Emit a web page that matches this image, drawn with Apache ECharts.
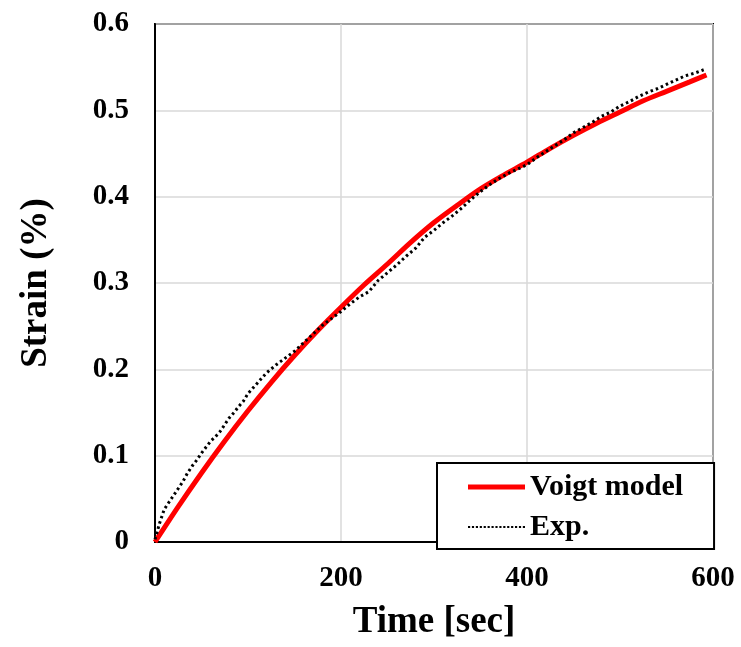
<!DOCTYPE html>
<html>
<head>
<meta charset="utf-8">
<script src="https://cdn.jsdelivr.net/npm/echarts@6/dist/echarts.min.js"></script>
<style>html,body{margin:0;padding:0;background:#fff}#c{width:741px;height:647px}</style>
</head>
<body>
<div id="c"></div>
<script>
// Voigt model fit (time s, strain %)
const voigtTime = [0, 25, 50, 75, 100, 125, 150, 175, 200, 225, 250, 275, 300, 325, 350, 375, 400, 425, 450, 475, 500, 525, 550, 575, 593];
const voigtStrain = [0, 0.041, 0.080, 0.117, 0.152, 0.185, 0.216, 0.245, 0.272, 0.298, 0.322, 0.347, 0.370, 0.390, 0.409, 0.425, 0.440, 0.456, 0.471, 0.485, 0.498, 0.511, 0.522, 0.533, 0.541];
// Experimental data
const expTime = [0,5,10,15,20,25,30,35,40,45,50,55,60,65,70,75,80,85,90,95,100,110,120,130,140,150,160,170,180,190,200,210,220,230,240,250,260,270,280,290,300,310,320,330,340,350,360,370,380,390,400,410,420,430,440,450,460,470,480,490,500,510,520,530,540,550,560,570,580,590];
const expStrain = [0.003,0.022,0.038,0.046,0.054,0.062,0.070,0.080,0.088,0.095,0.103,0.110,0.117,0.122,0.128,0.136,0.144,0.150,0.157,0.163,0.172,0.184,0.196,0.205,0.213,0.221,0.231,0.241,0.251,0.259,0.267,0.276,0.284,0.290,0.303,0.312,0.321,0.331,0.340,0.353,0.361,0.370,0.378,0.387,0.397,0.406,0.414,0.421,0.427,0.432,0.437,0.445,0.452,0.459,0.466,0.474,0.480,0.486,0.493,0.498,0.505,0.510,0.516,0.521,0.525,0.530,0.535,0.540,0.543,0.547];
const xTicks = [0, 200, 400, 600];
const yTicks = [0, 0.1, 0.2, 0.3, 0.4, 0.5, 0.6];

const FONT = '"Liberation Serif", "Times New Roman", serif';
let dots = '';
for (let x = 0; x < 57; x += 4) dots += 'M' + x + ',0 h2.2 v2.2 h-2.2 Z ';
const chart = echarts.init(document.getElementById('c'));
const zip = (a, b) => a.map((v, i) => [v, b[i]]);
chart.setOption({
  animation: false,
  backgroundColor: '#fff',
  grid: { left: 155, right: 28, top: 24, bottom: 105, show: true, borderColor: '#000', borderWidth: 2, backgroundColor: 'transparent' },
  xAxis: {
    type: 'value', min: xTicks[0], max: xTicks[xTicks.length - 1], interval: 200,
    name: 'Time [sec]', nameLocation: 'middle', nameGap: 62,
    nameTextStyle: { fontFamily: FONT, fontWeight: 'bold', fontSize: 37, color: '#000' },
    axisLine: { show: true, lineStyle: { color: '#000', width: 2 } },
    axisTick: { show: false },
    axisLabel: { fontFamily: FONT, fontWeight: 'bold', fontSize: 29, color: '#000', margin: 22 },
    splitLine: { show: true, lineStyle: { color: '#d9d9d9', width: 1.5 } }
  },
  yAxis: {
    type: 'value', min: yTicks[0], max: yTicks[yTicks.length - 1], interval: 0.1,
    name: 'Strain (%)', nameLocation: 'middle', nameGap: 100, nameRotate: 90,
    nameTextStyle: { fontFamily: FONT, fontWeight: 'bold', fontSize: 37, color: '#000' },
    axisLine: { show: true, lineStyle: { color: '#000', width: 2 } },
    axisTick: { show: false },
    axisLabel: { fontFamily: FONT, fontWeight: 'bold', fontSize: 29, color: '#000', margin: 26,
      formatter: v => (v === 0 ? '0' : v.toFixed(1)) },
    splitLine: { show: true, lineStyle: { color: '#d9d9d9', width: 1.5 } }
  },
  legend: {
    orient: 'vertical', left: 437, top: 463,
    padding: [9, 31, 7, 31], itemGap: 10, itemWidth: 57, itemHeight: 14,
    backgroundColor: '#fff', borderColor: '#000', borderWidth: 2,
    textStyle: { fontFamily: FONT, fontWeight: 'bold', fontSize: 30, color: '#000' },
    data: [
      { name: 'Voigt model', icon: 'path://M0,0 L57,0 L57,5 L0,5 Z', itemStyle: { color: '#ff0000' } },
      { name: 'Exp.', icon: 'path://' + dots, itemStyle: { color: '#000' } }
    ]
  },
  series: [
    { name: 'Exp.', type: 'line', data: zip(expTime, expStrain), showSymbol: false, symbol: 'none',
      lineStyle: { color: '#000', width: 3, type: [2.5, 3] }, itemStyle: { color: '#000' }, z: 3 },
    { name: 'Voigt model', type: 'line', data: zip(voigtTime, voigtStrain), showSymbol: false, symbol: 'none', smooth: 0.3,
      lineStyle: { color: '#ff0000', width: 5 }, itemStyle: { color: '#ff0000' }, z: 2 }
  ]
});
</script>
</body>
</html>
